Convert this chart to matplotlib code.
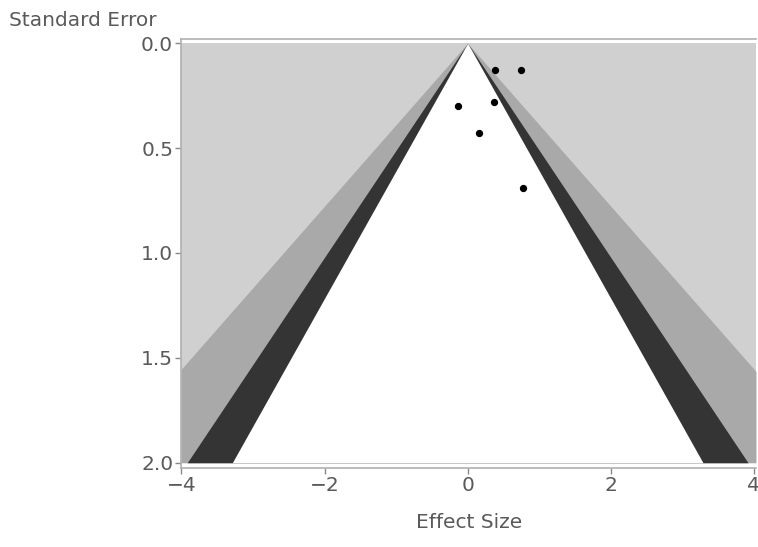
import numpy as np
import matplotlib.pyplot as plt

# study points (effect size, standard error)
effect = [0.38, 0.74, -0.13, 0.37, 0.16, 0.78]
stderr = [0.13, 0.128, 0.30, 0.28, 0.43, 0.69]

# contour levels (z for p = .10, .05, .01)
z_levels = [2.576, 1.96, 1.645]
z_colors = ["#a9a9a9", "#343434", "#ffffff"]
bg_color = "#d0d0d0"

xticks = [-4, -2, 0, 2, 4]
yticks = [0.0, 0.5, 1.0, 1.5, 2.0]
txt = "#5a5a5a"

fig = plt.figure(figsize=(7.58, 5.47), dpi=100)
ax = fig.add_axes([0.2394, 0.1444, 0.7579, 0.7843])

xmin, xmax = -4, 4.03
se = np.linspace(0, 2.0, 400)
ax.fill_betweenx(se, xmin, xmax, color=bg_color, lw=0)
for z, c in zip(z_levels, z_colors):
    ax.fill_betweenx(se, np.clip(-z * se, xmin, xmax), np.clip(z * se, xmin, xmax),
                     color=c, lw=0)

ax.scatter(effect, stderr, s=18, color="black", zorder=3)

ax.set_xlim(xmin, xmax)
ax.set_ylim(2.025, -0.02)
ax.set_xticks(xticks)
ax.set_yticks(yticks)
ax.set_xticklabels(["\u22124", "\u22122", "0", "2", "4"])
ax.set_yticklabels(["0.0", "0.5", "1.0", "1.5", "2.0"])
ax.tick_params(colors="#888888", labelcolor=txt, labelsize=14.5, length=4, width=1)
ax.tick_params(axis="x", pad=1.5)
ax.tick_params(axis="y", pad=2)
for s in ["left", "bottom", "top"]:
    ax.spines[s].set_color("#b0b0b0")
    ax.spines[s].set_linewidth(1.2)
ax.spines["right"].set_visible(False)

ax.set_xlabel("Effect Size", fontsize=14.5, color=txt, labelpad=13)
fig.text(0.012, 0.963, "Standard Error", fontsize=14.5, color=txt, ha="left", va="center")

fig.savefig("out.png", dpi=100)
